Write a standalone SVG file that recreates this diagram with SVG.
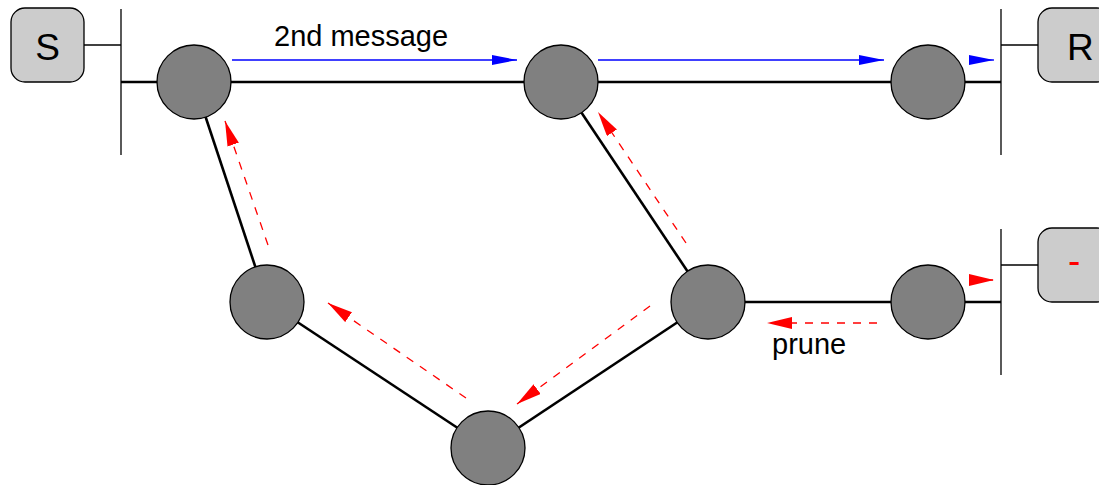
<svg xmlns="http://www.w3.org/2000/svg" width="1099" height="485" viewBox="0 0 1099 485">
<style>
.bar{stroke:#000;stroke-width:1.3;fill:none}
.thick{stroke:#000;stroke-width:2.6;fill:none}
.node{fill:#808080;stroke:#000;stroke-width:1.3}
.box{fill:#cccccc;stroke:#000;stroke-width:1.3}
.blue{stroke:#0000ff;stroke-width:1.3;fill:none;marker-end:url(#hb)}
.red{stroke:#ff0000;stroke-width:1.3;fill:none;stroke-dasharray:8 8;marker-end:url(#hr)}
.lbl{font-family:"Liberation Sans",Arial,sans-serif;font-size:29px;fill:#000}
.big{font-family:"Liberation Sans",Arial,sans-serif;font-size:37px;fill:#000}
</style>
<defs>
<marker id="hb" markerUnits="userSpaceOnUse" markerWidth="26" markerHeight="12" refX="25" refY="5" orient="auto" viewBox="0 0 26 12">
<path d="M0,0 L25,5 L0,10 z" fill="#0000ff"/>
</marker>
<marker id="hr" markerUnits="userSpaceOnUse" markerWidth="26" markerHeight="13" refX="25" refY="6" orient="auto" viewBox="0 0 26 13">
<path d="M0,0 L25,6 L0,12 z" fill="#ff0000"/>
</marker>
</defs>
<g id="lans">
<line class="bar" x1="121" y1="9" x2="121" y2="155"/>
<line class="bar" x1="1001" y1="9" x2="1001" y2="155"/>
<line class="bar" x1="1001" y1="229" x2="1001" y2="375"/>
</g>
<g id="connectors">
<line class="bar" x1="84" y1="45" x2="121" y2="45"/>
<line class="bar" x1="1001" y1="45" x2="1038" y2="45"/>
<line class="bar" x1="1001" y1="265" x2="1038" y2="265"/>
<line class="thick" x1="121" y1="82" x2="1001" y2="82"/>
<line class="thick" x1="708" y1="302" x2="1001" y2="302"/>
<line class="thick" x1="194" y1="82" x2="267" y2="302"/>
<line class="thick" x1="561" y1="82" x2="708" y2="302"/>
<line class="thick" x1="267" y1="302" x2="488" y2="448"/>
<line class="thick" x1="488" y1="448" x2="708" y2="302"/>
<line class="blue" x1="232" y1="60" x2="517" y2="60"/>
<line class="blue" x1="598" y1="60" x2="884" y2="60"/>
<line class="blue" x1="969" y1="60" x2="994" y2="60"/>
<line class="red" x1="969" y1="280" x2="994" y2="280"/>
<line class="red" x1="877" y1="323" x2="767" y2="323"/>
<line class="red" x1="686" y1="243" x2="598" y2="112"/>
<line class="red" x1="268" y1="245" x2="225" y2="121"/>
<line class="red" x1="466" y1="398" x2="328" y2="303"/>
<line class="red" x1="650" y1="306" x2="517" y2="404"/>
</g>
<g id="S"><rect class="box" x="11" y="8" width="73" height="74" rx="14"/><text class="big" x="47.5" y="60" text-anchor="middle">S</text></g>
<g id="R"><rect class="box" x="1038" y="8" width="73" height="74" rx="14"/><text class="big" x="1067" y="60">R</text></g>
<g id="X"><rect class="box" x="1038" y="228" width="73" height="74" rx="14"/><text class="big" x="1068" y="273" style="fill:#ff0000">-</text></g>
<g id="nA"><circle class="node" cx="194" cy="82" r="37"/></g>
<g id="nB"><circle class="node" cx="561" cy="82" r="37"/></g>
<g id="nC"><circle class="node" cx="928" cy="82" r="37"/></g>
<g id="nD"><circle class="node" cx="267" cy="302" r="37"/></g>
<g id="nE"><circle class="node" cx="708" cy="302" r="37"/></g>
<g id="nF"><circle class="node" cx="928" cy="302" r="37"/></g>
<g id="nG"><circle class="node" cx="488" cy="448" r="37"/></g>
<g id="labels">
<text class="lbl" x="274" y="46">2nd message</text>
<text class="lbl" x="772" y="354">prune</text>
</g>
</svg>
